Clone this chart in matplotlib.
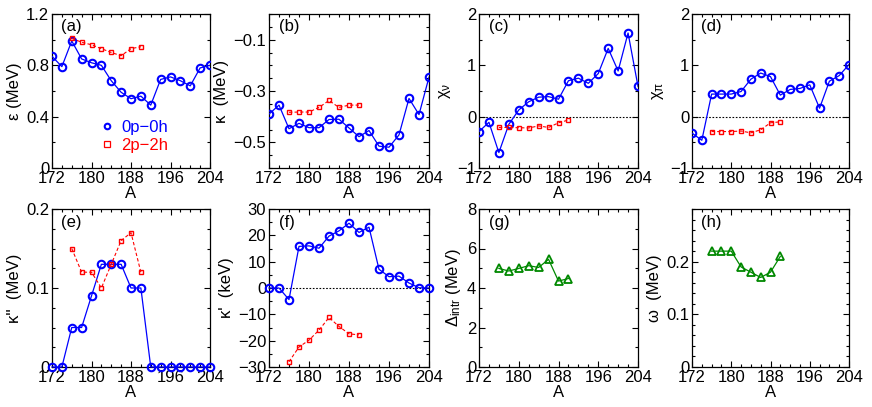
import matplotlib
matplotlib.use("Agg")
import matplotlib.pyplot as plt
from matplotlib.ticker import MultipleLocator, FixedLocator
from matplotlib.lines import Line2D

plt.rcParams['font.family'] = ['Liberation Sans', 'DejaVu Sans']
plt.rcParams['mathtext.fontset'] = 'custom'
plt.rcParams['mathtext.rm'] = 'Liberation Sans'
plt.rcParams['mathtext.it'] = 'Liberation Sans:italic'
plt.rcParams['mathtext.bf'] = 'Liberation Sans:bold'

# ---------------- data ----------------
A_all = [172, 174, 176, 178, 180, 182, 184, 186, 188, 190, 192, 194, 196, 198, 200, 202, 204]
A_2p = [176, 178, 180, 182, 184, 186, 188, 190]

eps_0p = [0.87, 0.79, 0.99, 0.85, 0.82, 0.80, 0.68, 0.59, 0.54, 0.56, 0.49, 0.69, 0.71, 0.68, 0.64, 0.78, 0.80]
eps_2p = [1.01, 0.98, 0.96, 0.93, 0.90, 0.875, 0.93, 0.945]

kap_0p = [-0.39, -0.355, -0.447, -0.426, -0.443, -0.443, -0.411, -0.41, -0.444, -0.478, -0.454,
          -0.515, -0.519, -0.471, -0.329, -0.392, -0.246]
kap_2p = [-0.383, -0.382, -0.382, -0.364, -0.337, -0.364, -0.355, -0.355]

chin_0p = [-0.29, -0.11, -0.70, -0.15, 0.13, 0.29, 0.38, 0.39, 0.34, 0.70, 0.75, 0.65, 0.84, 1.33,
           0.89, 1.63, 0.59]
chin_2p = [-0.21, -0.21, -0.215, -0.22, -0.18, -0.21, -0.12, -0.065]

chip_0p = [-0.32, -0.46, 0.44, 0.44, 0.44, 0.49, 0.73, 0.85, 0.78, 0.42, 0.53, 0.55, 0.62, 0.165,
           0.69, 0.80, 1.015]
chip_2p = [-0.29, -0.29, -0.29, -0.28, -0.315, -0.255, -0.12, -0.10]

kpp_0p = [0, 0, 0.05, 0.05, 0.09, 0.13, 0.13, 0.13, 0.10, 0.10, 0, 0, 0, 0, 0, 0, 0]
kpp_2p = [0.15, 0.12, 0.12, 0.10, 0.13, 0.16, 0.17, 0.12]

kp_0p = [0, 0, -4.4, 15.8, 16.0, 15.1, 19.7, 21.7, 24.6, 21.1, 23.1, 7.1, 4.3, 4.5, 1.9, 0.1, 0]
kp_2p = [-28.0, -22.4, -19.8, -16.0, -11.2, -14.6, -17.4, -17.8]

delta_intr = [4.99, 4.86, 4.99, 5.13, 5.04, 5.45, 4.35, 4.48]
omega = [0.22, 0.22, 0.22, 0.19, 0.18, 0.17, 0.18, 0.21]

x_ticks = [172, 180, 188, 196, 204]
legend_labels = ['0p\u22120h', '2p\u22122h']

# ---------------- figure ----------------
W, H = 872, 407
fig = plt.figure(figsize=(W / 100, H / 100), dpi=100)

cols = [(52, 210), (269, 429), (479, 638), (692, 849)]
rows = [(14, 168), (209, 367)]

def make_ax(r, c):
    x0, x1 = cols[c]
    y0, y1 = rows[r]
    return fig.add_axes([x0 / W, (H - y1) / H, (x1 - x0) / W, (y1 - y0) / H])

BLUE = '#0000ff'
RED = '#ff0000'
GREEN = '#008800'
FS = 12

def style(ax, ylim, major, minor, letter, ylabel, yticks=None):
    ax.set_xlim(172, 204)
    ax.set_ylim(*ylim)
    ax.xaxis.set_major_locator(FixedLocator(x_ticks))
    ax.xaxis.set_minor_locator(MultipleLocator(2))
    if yticks is not None:
        ax.yaxis.set_major_locator(FixedLocator(yticks))
    else:
        ax.yaxis.set_major_locator(MultipleLocator(major))
    ax.yaxis.set_minor_locator(MultipleLocator(minor))
    ax.tick_params(which='both', direction='in', top=True, right=True, labelsize=FS, pad=2)
    ax.tick_params(which='major', length=4, width=0.8)
    ax.tick_params(which='minor', length=2.5, width=0.8)
    for s in ax.spines.values():
        s.set_linewidth(0.9)
    ax.set_xlabel('A', fontsize=FS, labelpad=0)
    ax.set_ylabel(ylabel, fontsize=FS, labelpad=3)
    ax.text(0.06, 0.965, letter, transform=ax.transAxes, ha='left', va='top', fontsize=FS)

def plot_0p(ax, y):
    ax.plot(A_all, y, '-', color=BLUE, lw=0.9, marker='o', ms=5.4, mfc='none', mec=BLUE, mew=1.5, zorder=3)

def plot_2p(ax, y):
    ax.plot(A_2p, y, '--', color=RED, lw=0.8, dashes=(3, 2), marker='s', ms=3.4, mfc='none', mec=RED,
            mew=1.0, zorder=3)

def plot_g(ax, y):
    ax.plot(A_2p, y, '-', color=GREEN, lw=0.9, marker='^', ms=5.5, mfc='none', mec=GREEN, mew=1.3, zorder=3)

def zero(ax):
    ax.axhline(0, color='black', lw=0.8, ls=(0, (1.5, 1.5)), zorder=1)

# (a)
ax = make_ax(0, 0)
plot_0p(ax, eps_0p)
plot_2p(ax, eps_2p)
style(ax, (0, 1.2), 0.4, 0.2, '(a)', '\u03b5 (MeV)', yticks=[0, 0.4, 0.8, 1.2])
ax.set_yticklabels(['0', '0.4', '0.8', '1.2'])
handles = [Line2D([], [], ls='none', marker='o', ms=4, mfc='none', mec=BLUE, mew=1.5, color=BLUE),
           Line2D([], [], ls='none', marker='s', ms=4, mfc='none', mec=RED, mew=0.9, color=RED)]
leg = ax.legend(handles, legend_labels, loc='center left', bbox_to_anchor=(0.30, 0.205), frameon=False,
                fontsize=FS, handlelength=0.9, handletextpad=0.4, labelspacing=0.15, borderaxespad=0,
                borderpad=0)
for t, c in zip(leg.get_texts(), [BLUE, RED]):
    t.set_color(c)

# (b)
ax = make_ax(0, 1)
plot_0p(ax, kap_0p)
plot_2p(ax, kap_2p)
style(ax, (-0.6, 0), 0.2, 0.05, '(b)', '\u03ba  (MeV)', yticks=[-0.5, -0.3, -0.1])
ax.set_yticklabels(['\u22120.5', '\u22120.3', '\u22120.1'])

# (c)
ax = make_ax(0, 2)
zero(ax)
plot_0p(ax, chin_0p)
plot_2p(ax, chin_2p)
style(ax, (-1, 2), 1, 0.5, '(c)', r'$\mathregular{\chi_\nu}$', yticks=[-1, 0, 1, 2])
ax.set_yticklabels(['\u22121', '0', '1', '2'])

# (d)
ax = make_ax(0, 3)
zero(ax)
plot_0p(ax, chip_0p)
plot_2p(ax, chip_2p)
style(ax, (-1, 2), 1, 0.5, '(d)', r'$\mathregular{\chi_\pi}$', yticks=[-1, 0, 1, 2])
ax.set_yticklabels(['\u22121', '0', '1', '2'])

# (e)
ax = make_ax(1, 0)
plot_0p(ax, kpp_0p)
plot_2p(ax, kpp_2p)
style(ax, (0, 0.2), 0.1, 0.025, '(e)', "\u03ba''  (MeV)", yticks=[0, 0.1, 0.2])
ax.set_yticklabels(['0', '0.1', '0.2'])
for l in ax.lines:
    l.set_clip_on(False)

# (f)
ax = make_ax(1, 1)
zero(ax)
plot_0p(ax, kp_0p)
plot_2p(ax, kp_2p)
style(ax, (-30, 30), 10, 5, '(f)', "\u03ba'  (keV)", yticks=[-30, -20, -10, 0, 10, 20, 30])
ax.set_yticklabels(['\u221230', '\u221220', '\u221210', '0', '10', '20', '30'])
for l in ax.lines:
    l.set_clip_on(False)

# (g)
ax = make_ax(1, 2)
plot_g(ax, delta_intr)
style(ax, (0, 8), 2, 1, '(g)', r'$\Delta_{\rm intr}$ (MeV)', yticks=[0, 2, 4, 6, 8])

# (h)
ax = make_ax(1, 3)
plot_g(ax, omega)
style(ax, (0, 0.3), 0.1, 0.02, '(h)', '\u03c9  (MeV)', yticks=[0, 0.1, 0.2])
ax.set_yticklabels(['0', '0.1', '0.2'])

fig.savefig('out.png', dpi=100)
